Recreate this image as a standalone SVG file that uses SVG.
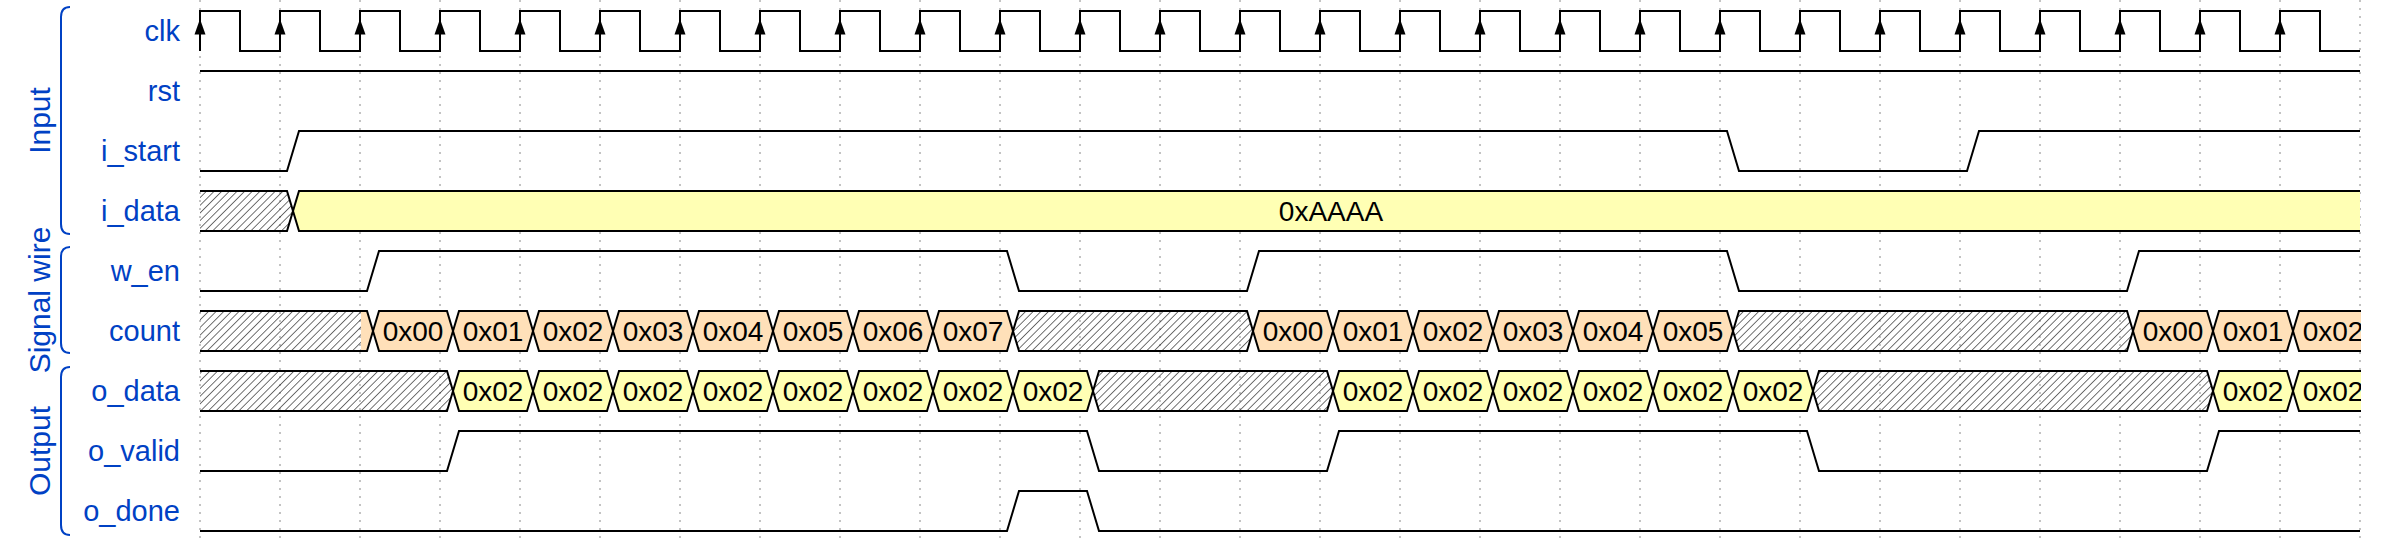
<svg xmlns="http://www.w3.org/2000/svg" xmlns:xlink="http://www.w3.org/1999/xlink" width="2400" height="540" viewBox="0 0 2400 540">
<style>
.lbl{font-family:"Liberation Sans",Arial,sans-serif;font-size:29px;fill:#0041c4;text-anchor:end}
.grp{font-family:"Liberation Sans",Arial,sans-serif;font-size:30px;fill:#0041c4;text-anchor:middle}
.dt{font-family:"Liberation Sans",Arial,sans-serif;font-size:28px;fill:#000;text-anchor:middle}
.w{fill:none;stroke:#000;stroke-width:2}
.x{fill:url(#hatch);stroke:#000;stroke-width:2}
.y{fill:#ffffb4;stroke:#000;stroke-width:2}
.o{fill:#ffe0b9;stroke:#000;stroke-width:2}
.br{fill:none;stroke:#0041c4;stroke-width:2}
.gl{stroke:#888;stroke-width:1;stroke-dasharray:2,6}
</style>
<defs>
<pattern id="hatch" patternUnits="userSpaceOnUse" width="5.4" height="10" patternTransform="rotate(45)">
<line x1="0" y1="-1" x2="0" y2="11" stroke="#000" stroke-width="1.1"/>
</pattern>
<polygon id="arr" points="0,19 -5.5,34.5 5.5,34.5" fill="#000"/>
<clipPath id="clip"><rect x="198" y="0" width="2163" height="540"/></clipPath>
</defs>
<rect width="2400" height="540" fill="#fff"/>
<g id="grid">
<line class="gl" x1="200" y1="0" x2="200" y2="540"/><line class="gl" x1="280" y1="0" x2="280" y2="540"/><line class="gl" x1="360" y1="0" x2="360" y2="540"/><line class="gl" x1="440" y1="0" x2="440" y2="540"/><line class="gl" x1="520" y1="0" x2="520" y2="540"/><line class="gl" x1="600" y1="0" x2="600" y2="540"/><line class="gl" x1="680" y1="0" x2="680" y2="540"/><line class="gl" x1="760" y1="0" x2="760" y2="540"/><line class="gl" x1="840" y1="0" x2="840" y2="540"/><line class="gl" x1="920" y1="0" x2="920" y2="540"/><line class="gl" x1="1000" y1="0" x2="1000" y2="540"/><line class="gl" x1="1080" y1="0" x2="1080" y2="540"/><line class="gl" x1="1160" y1="0" x2="1160" y2="540"/><line class="gl" x1="1240" y1="0" x2="1240" y2="540"/><line class="gl" x1="1320" y1="0" x2="1320" y2="540"/><line class="gl" x1="1400" y1="0" x2="1400" y2="540"/><line class="gl" x1="1480" y1="0" x2="1480" y2="540"/><line class="gl" x1="1560" y1="0" x2="1560" y2="540"/><line class="gl" x1="1640" y1="0" x2="1640" y2="540"/><line class="gl" x1="1720" y1="0" x2="1720" y2="540"/><line class="gl" x1="1800" y1="0" x2="1800" y2="540"/><line class="gl" x1="1880" y1="0" x2="1880" y2="540"/><line class="gl" x1="1960" y1="0" x2="1960" y2="540"/><line class="gl" x1="2040" y1="0" x2="2040" y2="540"/><line class="gl" x1="2120" y1="0" x2="2120" y2="540"/><line class="gl" x1="2200" y1="0" x2="2200" y2="540"/><line class="gl" x1="2280" y1="0" x2="2280" y2="540"/><line class="gl" x1="2360" y1="0" x2="2360" y2="540"/>
</g>
<g id="groups">
<path class="br" d="M70,7 C64,7 61,11 61,17 L61,224 C61,230 64,234 70,234"/>
<text class="grp" transform="translate(50,120.5) rotate(-90)">Input</text>
<path class="br" d="M70,247 C64,247 61,251 61,257 L61,343 C61,349 64,353 70,353"/>
<text class="grp" transform="translate(50,300) rotate(-90)">Signal wire</text>
<path class="br" d="M70,367 C64,367 61,371 61,377 L61,525 C61,531 64,535 70,535"/>
<text class="grp" transform="translate(50,451) rotate(-90)">Output</text>
</g>
<g id="clk">
<text class="lbl" x="180" y="41">clk</text>
<path class="w" d="M200,51 V11 H240 V51 H280 V11 H320 V51 H360 V11 H400 V51 H440 V11 H480 V51 H520 V11 H560 V51 H600 V11 H640 V51 H680 V11 H720 V51 H760 V11 H800 V51 H840 V11 H880 V51 H920 V11 H960 V51 H1000 V11 H1040 V51 H1080 V11 H1120 V51 H1160 V11 H1200 V51 H1240 V11 H1280 V51 H1320 V11 H1360 V51 H1400 V11 H1440 V51 H1480 V11 H1520 V51 H1560 V11 H1600 V51 H1640 V11 H1680 V51 H1720 V11 H1760 V51 H1800 V11 H1840 V51 H1880 V11 H1920 V51 H1960 V11 H2000 V51 H2040 V11 H2080 V51 H2120 V11 H2160 V51 H2200 V11 H2240 V51 H2280 V11 H2320 V51 H2360"/>
<use xlink:href="#arr" x="200"/><use xlink:href="#arr" x="280"/><use xlink:href="#arr" x="360"/><use xlink:href="#arr" x="440"/><use xlink:href="#arr" x="520"/><use xlink:href="#arr" x="600"/><use xlink:href="#arr" x="680"/><use xlink:href="#arr" x="760"/><use xlink:href="#arr" x="840"/><use xlink:href="#arr" x="920"/><use xlink:href="#arr" x="1000"/><use xlink:href="#arr" x="1080"/><use xlink:href="#arr" x="1160"/><use xlink:href="#arr" x="1240"/><use xlink:href="#arr" x="1320"/><use xlink:href="#arr" x="1400"/><use xlink:href="#arr" x="1480"/><use xlink:href="#arr" x="1560"/><use xlink:href="#arr" x="1640"/><use xlink:href="#arr" x="1720"/><use xlink:href="#arr" x="1800"/><use xlink:href="#arr" x="1880"/><use xlink:href="#arr" x="1960"/><use xlink:href="#arr" x="2040"/><use xlink:href="#arr" x="2120"/><use xlink:href="#arr" x="2200"/><use xlink:href="#arr" x="2280"/>
</g>
<g id="rst">
<text class="lbl" x="180" y="101">rst</text>
<path class="w" d="M200,71 H2360"/>
</g>
<g id="i_start">
<text class="lbl" x="180" y="161">i_start</text>
<path class="w" d="M200,171 L287,171 L299,131 L1727,131 L1739,171 L1967,171 L1979,131 L2360,131"/>
</g>
<g id="i_data">
<text class="lbl" x="180" y="221">i_data</text>
<path class="x" d="M200,191 L287,191 L293,211 L287,231 L200,231"/>
<path class="y" d="M2360,231 L299,231 L293,211 L299,191 L2360,191"/>
<text class="dt" x="1331" y="221">0xAAAA</text>
</g>
<g id="w_en">
<text class="lbl" x="180" y="281">w_en</text>
<path class="w" d="M200,291 L367,291 L379,251 L1007,251 L1019,291 L1247,291 L1259,251 L1727,251 L1739,291 L2127,291 L2139,251 L2360,251"/>
</g>
<g id="count">
<text class="lbl" x="180" y="341">count</text>
<g clip-path="url(#clip)">
<polygon points="361,311 367,311 373,331 367,351 361,351" fill="#ffe0b9"/>
<rect x="200" y="311" width="161" height="40" fill="url(#hatch)"/>
<path class="w" d="M200,311 L367,311 L373,331 L367,351 L200,351"/>
<polygon class="o" points="373,331 379,311 447,311 453,331 447,351 379,351"/>
<polygon class="o" points="453,331 459,311 527,311 533,331 527,351 459,351"/>
<polygon class="o" points="533,331 539,311 607,311 613,331 607,351 539,351"/>
<polygon class="o" points="613,331 619,311 687,311 693,331 687,351 619,351"/>
<polygon class="o" points="693,331 699,311 767,311 773,331 767,351 699,351"/>
<polygon class="o" points="773,331 779,311 847,311 853,331 847,351 779,351"/>
<polygon class="o" points="853,331 859,311 927,311 933,331 927,351 859,351"/>
<polygon class="o" points="933,331 939,311 1007,311 1013,331 1007,351 939,351"/>
<polygon class="x" points="1013,331 1019,311 1247,311 1253,331 1247,351 1019,351"/>
<polygon class="o" points="1253,331 1259,311 1327,311 1333,331 1327,351 1259,351"/>
<polygon class="o" points="1333,331 1339,311 1407,311 1413,331 1407,351 1339,351"/>
<polygon class="o" points="1413,331 1419,311 1487,311 1493,331 1487,351 1419,351"/>
<polygon class="o" points="1493,331 1499,311 1567,311 1573,331 1567,351 1499,351"/>
<polygon class="o" points="1573,331 1579,311 1647,311 1653,331 1647,351 1579,351"/>
<polygon class="o" points="1653,331 1659,311 1727,311 1733,331 1727,351 1659,351"/>
<polygon class="x" points="1733,331 1739,311 2127,311 2133,331 2127,351 1739,351"/>
<polygon class="o" points="2133,331 2139,311 2207,311 2213,331 2207,351 2139,351"/>
<polygon class="o" points="2213,331 2219,311 2287,311 2293,331 2287,351 2219,351"/>
<path class="o" d="M2362,351 L2299,351 L2293,331 L2299,311 L2362,311"/>
<text class="dt" x="413" y="341">0x00</text><text class="dt" x="493" y="341">0x01</text><text class="dt" x="573" y="341">0x02</text><text class="dt" x="653" y="341">0x03</text><text class="dt" x="733" y="341">0x04</text><text class="dt" x="813" y="341">0x05</text><text class="dt" x="893" y="341">0x06</text><text class="dt" x="973" y="341">0x07</text>
<text class="dt" x="1293" y="341">0x00</text><text class="dt" x="1373" y="341">0x01</text><text class="dt" x="1453" y="341">0x02</text><text class="dt" x="1533" y="341">0x03</text><text class="dt" x="1613" y="341">0x04</text><text class="dt" x="1693" y="341">0x05</text>
<text class="dt" x="2173" y="341">0x00</text><text class="dt" x="2253" y="341">0x01</text><text class="dt" x="2333" y="341">0x02</text>
</g>
</g>
<g id="o_data">
<text class="lbl" x="180" y="401">o_data</text>
<g clip-path="url(#clip)">
<path class="x" d="M200,371 L447,371 L453,391 L447,411 L200,411"/>
<polygon class="y" points="453,391 459,371 527,371 533,391 527,411 459,411"/>
<polygon class="y" points="533,391 539,371 607,371 613,391 607,411 539,411"/>
<polygon class="y" points="613,391 619,371 687,371 693,391 687,411 619,411"/>
<polygon class="y" points="693,391 699,371 767,371 773,391 767,411 699,411"/>
<polygon class="y" points="773,391 779,371 847,371 853,391 847,411 779,411"/>
<polygon class="y" points="853,391 859,371 927,371 933,391 927,411 859,411"/>
<polygon class="y" points="933,391 939,371 1007,371 1013,391 1007,411 939,411"/>
<polygon class="y" points="1013,391 1019,371 1087,371 1093,391 1087,411 1019,411"/>
<polygon class="x" points="1093,391 1099,371 1327,371 1333,391 1327,411 1099,411"/>
<polygon class="y" points="1333,391 1339,371 1407,371 1413,391 1407,411 1339,411"/>
<polygon class="y" points="1413,391 1419,371 1487,371 1493,391 1487,411 1419,411"/>
<polygon class="y" points="1493,391 1499,371 1567,371 1573,391 1567,411 1499,411"/>
<polygon class="y" points="1573,391 1579,371 1647,371 1653,391 1647,411 1579,411"/>
<polygon class="y" points="1653,391 1659,371 1727,371 1733,391 1727,411 1659,411"/>
<polygon class="y" points="1733,391 1739,371 1807,371 1813,391 1807,411 1739,411"/>
<polygon class="x" points="1813,391 1819,371 2207,371 2213,391 2207,411 1819,411"/>
<polygon class="y" points="2213,391 2219,371 2287,371 2293,391 2287,411 2219,411"/>
<path class="y" d="M2362,411 L2299,411 L2293,391 L2299,371 L2362,371"/>
<text class="dt" x="493" y="401">0x02</text><text class="dt" x="573" y="401">0x02</text><text class="dt" x="653" y="401">0x02</text><text class="dt" x="733" y="401">0x02</text><text class="dt" x="813" y="401">0x02</text><text class="dt" x="893" y="401">0x02</text><text class="dt" x="973" y="401">0x02</text><text class="dt" x="1053" y="401">0x02</text>
<text class="dt" x="1373" y="401">0x02</text><text class="dt" x="1453" y="401">0x02</text><text class="dt" x="1533" y="401">0x02</text><text class="dt" x="1613" y="401">0x02</text><text class="dt" x="1693" y="401">0x02</text><text class="dt" x="1773" y="401">0x02</text>
<text class="dt" x="2253" y="401">0x02</text><text class="dt" x="2333" y="401">0x02</text>
</g>
</g>
<g id="o_valid">
<text class="lbl" x="180" y="461">o_valid</text>
<path class="w" d="M200,471 L447,471 L459,431 L1087,431 L1099,471 L1327,471 L1339,431 L1807,431 L1819,471 L2207,471 L2219,431 L2360,431"/>
</g>
<g id="o_done">
<text class="lbl" x="180" y="521">o_done</text>
<path class="w" d="M200,531 L1007,531 L1019,491 L1087,491 L1099,531 L2360,531"/>
</g>
</svg>
